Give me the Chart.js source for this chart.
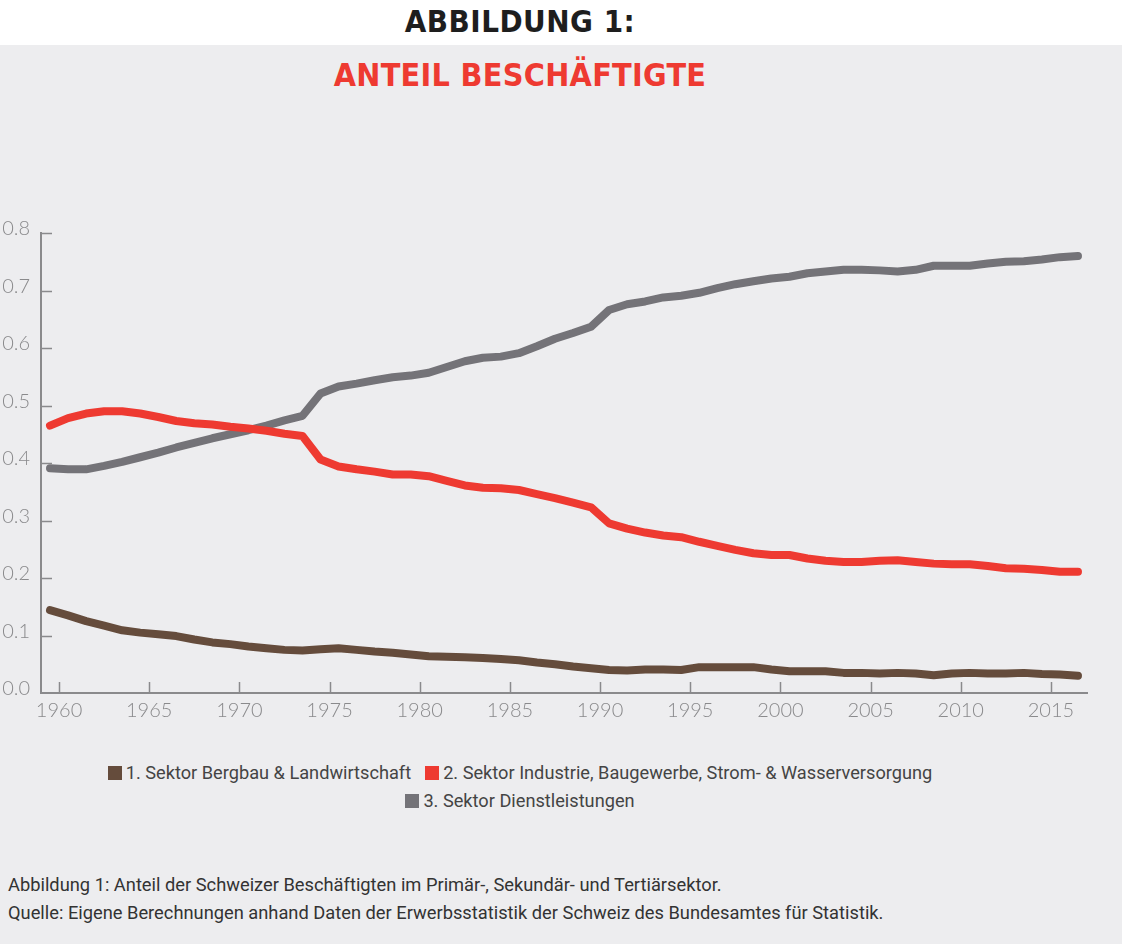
<!DOCTYPE html>
<html>
<head>
<meta charset="utf-8">
<script src="https://cdn.jsdelivr.net/npm/chart.js@4/dist/chart.umd.min.js"></script>
<style>
  html, body { margin:0; padding:0; }
  body { width:1122px; height:944px; background:#ededef; position:relative; overflow:hidden; font-family:"Roboto","Liberation Sans",sans-serif; }
  .band { position:absolute; left:0; top:0; width:1122px; height:45px; background:#fff; }
  .title1, .title2 { position:absolute; left:0; width:1040px; text-align:center; font-family:"Liberation Sans Narrow","DejaVu Sans Condensed","Liberation Sans",sans-serif; font-weight:bold; font-stretch:condensed; }
  .title1 { top:3px; font-size:31px; color:#1e1e1e; letter-spacing:0.5px; }
  .title2 { top:56px; font-size:32px; color:#ee3a31; letter-spacing:0.3px; }
  #wrap { position:absolute; left:0; top:210px; width:1122px; height:525px; }
  .legend { position:absolute; left:0; width:1040px; text-align:center; font-size:18.2px; color:#444; white-space:nowrap; }
  .legend span.item { margin:0 7px; }
  .legend i { display:inline-block; width:14px; height:14px; vertical-align:-1px; margin-right:4px; }
  .caption { position:absolute; left:8px; font-size:18.3px; color:#333; white-space:nowrap; }
</style>
</head>
<body>
<div class="band"></div>
<div class="title1">ABBILDUNG 1:</div>
<div class="title2">ANTEIL BESCHÄFTIGTE</div>
<div id="wrap"><canvas id="anteil_chart"></canvas></div>
<div class="legend" id="legend_row1" style="top:762px"></div>
<div class="legend" id="legend_row2" style="top:790px"></div>
<div class="caption" style="top:874px">Abbildung 1: Anteil der Schweizer Beschäftigten im Primär-, Sekundär- und Tertiärsektor.</div>
<div class="caption" style="top:902px">Quelle: Eigene Berechnungen anhand Daten der Erwerbsstatistik der Schweiz des Bundesamtes für Statistik.</div>

<script>
/* DATA */
let years = [];
for (let y = 1960; y <= 2017; y++) years.push(y);

let tickYears = [1960,1965,1970,1975,1980,1985,1990,1995,2000,2005,2010,2015];
let tickShares = [0.0,0.1,0.2,0.3,0.4,0.5,0.6,0.7,0.8];

let seriesNames = [
  "1. Sektor Bergbau & Landwirtschaft",
  "2. Sektor Industrie, Baugewerbe, Strom- & Wasserversorgung",
  "3. Sektor Dienstleistungen"
];
let seriesColors = ["#654c3c", "#ee3a31", "#747378"];

// 1. Sektor
let sektor1 = [
  0.144,0.135,0.125,0.117,0.109,0.105,0.102,0.099,0.093,0.088,
  0.085,0.081,0.078,0.075,0.074,0.076,0.078,0.075,0.072,0.070,
  0.067,0.064,0.063,0.062,0.061,0.059,0.057,0.053,0.050,0.046,
  0.043,0.040,0.039,0.041,0.041,0.040,0.045,0.045,0.045,0.045,
  0.041,0.038,0.038,0.038,0.035,0.035,0.034,0.035,0.034,0.031,
  0.034,0.035,0.034,0.034,0.035,0.033,0.032,0.030
];
// 2. Sektor
let sektor2 = [
  0.465,0.478,0.486,0.490,0.490,0.486,0.480,0.473,0.469,0.467,
  0.463,0.460,0.456,0.451,0.447,0.406,0.394,0.389,0.385,0.380,
  0.380,0.377,0.369,0.361,0.357,0.356,0.353,0.346,0.339,0.331,
  0.323,0.295,0.286,0.279,0.274,0.271,0.263,0.256,0.249,0.243,
  0.240,0.240,0.234,0.230,0.228,0.228,0.230,0.231,0.228,0.225,
  0.224,0.224,0.221,0.217,0.216,0.214,0.211,0.211
];
// 3. Sektor
let sektor3 = [
  0.391,0.389,0.389,0.395,0.402,0.410,0.418,0.427,0.435,0.443,
  0.450,0.457,0.465,0.474,0.482,0.521,0.533,0.538,0.544,0.549,
  0.552,0.557,0.567,0.577,0.583,0.585,0.591,0.603,0.616,0.626,
  0.637,0.666,0.676,0.681,0.688,0.691,0.696,0.704,0.711,0.716,
  0.721,0.724,0.730,0.733,0.736,0.736,0.735,0.733,0.736,0.743,
  0.743,0.743,0.747,0.750,0.751,0.754,0.758,0.760
];

let allSeries = [sektor1, sektor2, sektor3];

/* LEGEND (html, two rows like the original) */
function legendItem(i){
  return '<span class="item"><i style="background:' + seriesColors[i] + '"></i>' + seriesNames[i] + '</span>';
}
document.getElementById("legend_row1").innerHTML = legendItem(0) + legendItem(1);
document.getElementById("legend_row2").innerHTML = legendItem(2);

/* CHART SETTING */
const axisGray = "#8a8a8c";
const axisFont = { family: "Lato, 'Open Sans', sans-serif", size: 20, weight: 300 };

// inward tick marks, like the original
const innerTicks = {
  id: "innerTicks",
  afterDraw(chart){
    const ctx = chart.ctx, xs = chart.scales.x, ys = chart.scales.y, area = chart.chartArea;
    ctx.save();
    ctx.strokeStyle = axisGray;
    ctx.lineWidth = 1.5;
    ctx.beginPath();
    tickYears.forEach(v => {
      const px = Math.round(xs.getPixelForValue(v)) + 0.5;
      ctx.moveTo(px, area.bottom); ctx.lineTo(px, area.bottom - 11);
    });
    tickShares.forEach(v => {
      if (v === 0) return;
      const py = Math.round(ys.getPixelForValue(v)) + 0.5;
      ctx.moveTo(area.left, py); ctx.lineTo(area.left + 11, py);
    });
    ctx.stroke();
    ctx.restore();
  }
};

const datasets = allSeries.map((vals, i) => ({
  label: seriesNames[i],
  // each yearly value sits in the middle of its year, half a year before the tick
  data: vals.map((v, k) => ({ x: years[k] - 0.5, y: v })),
  borderColor: seriesColors[i],
  backgroundColor: seriesColors[i],
  borderWidth: 8,
  borderCapStyle: "round",
  borderJoinStyle: "round",
  pointRadius: 0,
  tension: 0,
  fill: false
}));

const chart_dom = document.getElementById("anteil_chart").getContext("2d");
const anteilChart = new Chart(chart_dom, {
  type: "line",
  data: { datasets: datasets },
  options: {
    responsive: true,
    maintainAspectRatio: false,
    animation: false,
    layout: { padding: { top: 13, right: 35, bottom: 0, left: 0 } },
    plugins: { legend: { display: false }, tooltip: { enabled: false } },
    scales: {
      x: {
        type: "linear",
        min: 1959,
        max: 2017,
        afterBuildTicks: axis => { axis.ticks = tickYears.map(v => ({ value: v })); },
        afterFit: axis => { axis.height = 42; },
        grid: { display: false, drawTicks: false },
        border: { display: true, color: axisGray, width: 2 },
        ticks: { color: axisGray, font: axisFont, padding: 6, maxRotation: 0, autoSkip: false,
                 callback: v => String(v) }
      },
      y: {
        min: 0,
        max: 0.8,
        afterBuildTicks: axis => { axis.ticks = tickShares.map(v => ({ value: v })); },
        afterFit: axis => { axis.width = 41; },
        grid: { display: false, drawTicks: false },
        border: { display: true, color: axisGray, width: 2 },
        ticks: { color: axisGray, font: axisFont, padding: 11, labelOffset: -4,
                 callback: v => v.toFixed(1) }
      }
    }
  },
  plugins: [innerTicks]
});
</script>
</body>
</html>
